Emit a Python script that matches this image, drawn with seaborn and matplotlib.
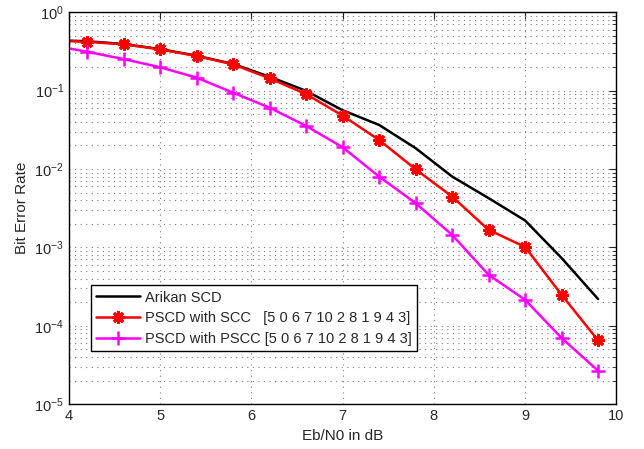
import matplotlib
matplotlib.use("Agg")
import matplotlib.pyplot as plt
import numpy as np
import pandas as pd
import seaborn as sns
from matplotlib.ticker import LogLocator, NullFormatter

# Eb/N0 points (dB); first point lies just left of the visible range
ebn0 = [3.8, 4.2, 4.6, 5.0, 5.4, 5.8, 6.2, 6.6, 7.0, 7.4, 7.8, 8.2, 8.6, 9.0, 9.4, 9.8]

ber_arikan = [0.44, 0.425, 0.392, 0.338, 0.278, 0.218, 0.150, 0.099, 0.056,
              0.0364, 0.0184, 0.0080, 0.00424, 0.0022, 7.3e-4, 2.19e-4]
ber_scc = [0.436, 0.418, 0.388, 0.335, 0.275, 0.216, 0.143, 0.090, 0.0478,
           0.0234, 0.0099, 0.00444, 0.00167, 0.00101, 2.48e-4, 6.5e-5]
ber_pscc = [0.38, 0.312, 0.252, 0.198, 0.146, 0.0938, 0.0604, 0.0353, 0.0189,
            0.00798, 0.00366, 0.00144, 4.46e-4, 2.14e-4, 6.97e-5, 2.67e-5]

labels = ["Arikan SCD",
          "PSCD with SCC   [5 0 6 7 10 2 8 1 9 4 3]",
          "PSCD with PSCC [5 0 6 7 10 2 8 1 9 4 3]"]

sns.set_style("white")
plt.rcParams['font.family'] = ['Liberation Sans', 'DejaVu Sans']
plt.rcParams['mathtext.fontset'] = 'custom'
plt.rcParams['mathtext.rm'] = 'Liberation Sans'
plt.rcParams['mathtext.it'] = 'Liberation Sans:italic'

fig = plt.figure(figsize=(6.44, 4.49), dpi=100)
ax = fig.add_axes([0.107, 0.100, 0.850, 0.873])

sns.lineplot(x=ebn0, y=ber_arikan, ax=ax, color='black', lw=1.8, label=labels[0])
sns.lineplot(x=ebn0, y=ber_scc, ax=ax, color='red', lw=1.8, marker=(8, 2, 0),
             markersize=9, markeredgewidth=2.2, markeredgecolor='red', label=labels[1])
sns.lineplot(x=ebn0, y=ber_pscc, ax=ax, color='magenta', lw=1.8, marker='+',
             markersize=10, markeredgewidth=1.8, markeredgecolor='magenta', label=labels[2])

ax.set_yscale('log')
ax.set_xlim(4, 10)
ax.set_ylim(1e-5, 1)
ax.set_xticks(range(4, 11))
ax.yaxis.set_major_locator(LogLocator(base=10, numticks=10))
ax.yaxis.set_minor_locator(LogLocator(base=10, subs=np.arange(2, 10), numticks=50))
ax.yaxis.set_minor_formatter(NullFormatter())

ax.grid(True, which='major', axis='both', color='#7a7a7a', linestyle=(0, (1, 4)), lw=0.8)
ax.grid(True, which='minor', axis='y', color='#7a7a7a', linestyle=(0, (1, 4)), lw=0.8)

ax.tick_params(which='both', direction='in', top=True, right=True, labelsize=10.5)
ax.tick_params(which='major', length=5, width=0.8)
ax.tick_params(which='minor', length=3, width=0.6)
for sp in ax.spines.values():
    sp.set_color('black')
    sp.set_linewidth(1.0)

ax.set_xlabel("Eb/N0 in dB", fontsize=11)
ax.set_ylabel("Bit Error Rate", fontsize=11)

leg = ax.legend(loc='lower left', bbox_to_anchor=(0.04, 0.136), borderaxespad=0,
                fancybox=False, framealpha=1, edgecolor='black', fontsize=10.5,
                handlelength=3.0, handletextpad=0.4, labelspacing=0.45, borderpad=0.35)
leg.get_frame().set_linewidth(1.0)

fig.savefig("out.png", dpi=100)
